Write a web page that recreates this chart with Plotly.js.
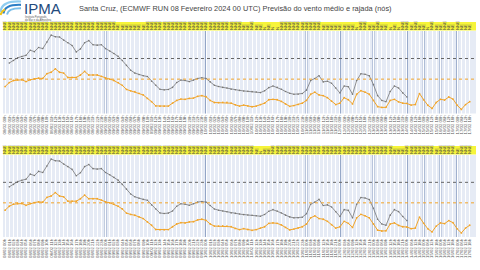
<!DOCTYPE html>
<html><head><meta charset="utf-8">
<script src="https://cdn.plot.ly/plotly-3.0.1.min.js"></script>
<style>html,body{margin:0;padding:0;background:#fff}#c{width:480px;height:270px}</style>
</head><body><div id="c"></div>
<script>
// Forecast steps (hours after 08 Feb 2024 00 UTC)
const steps = [0,1,2,3,4,5,6,7,8,9,10,11,12,13,14,15,16,17,18,19,20,21,22,23,24,
25,26,27,28,29,30,31,32,33,34,35,36,37,38,39,40,41,42,43,44,45,46,47,48,
49,50,51,52,53,54,55,56,57,58,59,60,61,62,63,64,65,66,67,68,69,70,71,72,
75,78,81,84,87,90,93,96,99,102,105,108,111,114,117,120,123,126,129,132,135,138,141,144,
150,156,162,168,174,180,186,192,198,204,210,216,222,228,234,240];
// Mean wind (knots)
const meanWind = [19.6,22.5,24,24.5,24.5,23.2,24.5,25.2,25.7,25.5,
29,30,32.5,30,29.4,26.2,26.2,26.2,28,30.6,
28,28,28,27,25.7,25,24,22.5,20.5,17.5,
16.5,15.9,14.7,13.5,11,8.6,5.5,5.3,5.3,5.4,
7.5,9.5,10.5,10.3,11,11.2,12.5,13,12.2,9.5,
8,7.9,8.1,8,7.5,6.3,5.4,6.1,5.5,4.9,
5.4,6.5,7.5,10,10.3,10,8.8,7,5.2,5.8,
6.6,7.5,9.5,14,15.5,13.5,13,11.5,9,6.5,
7.5,11.5,10,7,14,16.6,15.5,14,9.5,5,
4.4,4.5,9.5,10.3,8.5,7.5,7.3,6.1,6.5,14.5,
10,6,3.7,8,10.3,9.8,12,10.5,6,3,
6.5,8.6];
// Gust (knots)
const gust = [null,36.7,38.5,40.5,41.5,42.3,46,45,48,47.2,
52,57,55.8,55.6,53.4,51.5,49.5,44.8,47,51.5,
53,50,49.7,50,47.2,45.5,43.6,41.6,38.5,35,
31.5,29.4,28.3,27.5,26.9,23.5,20.5,17.6,17.2,17.5,
19,22.5,24.3,24,23.2,24.3,25.5,26,25.5,23,
20.5,19.6,19,18.5,17.6,17.3,16.8,16.4,16.1,15.9,
15.6,15.2,16.5,18.8,20,19,17.6,16,14.7,14,
14,14.5,17,24,25.5,27.5,23,23.5,22,18.5,
15,20,19.5,14,24,28.9,28.5,27.4,21,13,
9.5,8.6,16,20,18.6,15,12,null,null,null,
null,null,null,null,null,null,null,null,null,null,
null,null];
// Wind direction labels (top band of each panel)
const dirTop = ("NNE NNE NNE NNE NNE NNE NNE NNE NNE NNE " +
"NNE NNE NNE NNE NNE NNE NNE NNE NNE NNE " +
"NNE NNE NNE NNE NNE NNE NNE NE NE NE " +
"NE NE NE NE NNE NNE NNE NNE NNE NNE " +
"NNE NNE NNE NNE NNE NNE NNE NNE NNE NNE " +
"NNE NNE NNE NNE NNE NNE NNE NE NE NNE " +
"NE NE N NE N N NNE NNE NNE NNE " +
"NNE NNE NNE NNE NNE NNE NE NE NE NE " +
"NE NE NE NE N NNE NNE NE NE NNE " +
"NE NE N NE N NNE NNE NE NNE NE " +
"NE N NNE NE NE NNE NE NE NNE NE " +
"NE NE").split(" ");
const dirBot = ("NNE NNE NNE NNE NNE NNE NNE NNE NNE NNE " +
"NNE NNE NNE NNE NNE NNE NNE NNE NNE NNE " +
"NNE NNE NNE NNE NNE NNE NNE NNE NNE NNE " +
"NNE NNE NNE NNE NNE NNE NNE NNE NNE NNE " +
"NNE NNE NNE NNE NNE NNE NNE NNE NNE NNE " +
"NNE NNE NNE NNE NNE NNE NNE NNE NNE NNE " +
"NE N NE NE NNE NNE NNE NNE NNE NNE " +
"NNE NNE NNE NNE NNE NNE NNE NNE NNE NNE " +
"NNE NNE NNE NNE NNE NNE NNE NNE NNE NNE " +
"NNE NNE NNE NE NE NE NNE NNE NNE NNE " +
"NNE NNE NNE NE NNE NNE NNE NNE NE NNE " +
"NNE NNE").split(" ");
const thresholdMean = 25;
const thresholdGust = 40;
const titleText = "Santa Cruz, (ECMWF RUN 08 Fevereiro 2024 00 UTC) Previsão do vento médio e rajada (nós)";

const base = Date.UTC(2024,1,8,0);
const pad = n => String(n).padStart(2,'0');
const labels = steps.map(s => { const d = new Date(base + s*3600e3);
  return pad(d.getUTCDate()) + "/" + pad(d.getUTCMonth()+1) + " " + pad(d.getUTCHours()) + "h"; });
const dayStarts = labels.filter((l,i) => steps[i] > 0 && steps[i] < 240 && steps[i] % 24 === 0);

const W = 480, H = 270;
const px = x => x / W, py = y => 1 - y / H;
const xd = [px(3), px(476)];
const panels = [
  {xa:'x', xb:'x2', ya:'y', top:31, bot:113.5, dirs:dirTop},
  {xa:'x3', xb:'x4', ya:'y2', top:155, bot:237, dirs:dirBot}
];
const ORANGE = '#f2a52a', GRAY = '#777777';
const traces = [], shapes = [], layout = {
  width: W, height: H, margin:{l:0,r:0,t:0,b:0}, showlegend:false,
  paper_bgcolor:'#ffffff', plot_bgcolor:'#e6ebf5',
  font:{family:'Liberation Sans, Arial, sans-serif', color:'#444'},
  annotations: []
};
panels.forEach((p, k) => {
  const xn = p.xa === 'x' ? 'xaxis' : 'xaxis' + p.xa.slice(1);
  const xbn = 'xaxis' + p.xb.slice(1);
  const yn = p.ya === 'y' ? 'yaxis' : 'yaxis' + p.ya.slice(1);
  traces.push({x:labels, y:meanWind, xaxis:p.xa, yaxis:p.ya, type:'scatter', mode:'lines+markers',
    line:{color:ORANGE, width:1}, marker:{color:ORANGE, size:1.8}, hoverinfo:'skip'});
  traces.push({x:labels, y:gust, xaxis:p.xa, yaxis:p.ya, type:'scatter', mode:'lines+markers',
    line:{color:GRAY, width:0.8}, marker:{color:GRAY, size:1.6}, connectgaps:false, hoverinfo:'skip'});
  traces.push({x:labels, y:meanWind, xaxis:p.xb, yaxis:p.ya, type:'scatter', mode:'markers',
    marker:{opacity:0, size:1}, hoverinfo:'skip'});
  layout[xn] = {domain:xd, anchor:p.ya, type:'category', range:[-0.5, labels.length-0.5],
    tickmode:'array', tickvals:labels, ticktext:labels, tickangle:-90,
    tickfont:{size:4.3, color:'#555'}, ticks:'', showgrid:true, gridcolor:'#ffffff', gridwidth:1,
    zeroline:false, showline:false, fixedrange:true};
  layout[xbn] = {overlaying:p.xa, side:'top', anchor:p.ya, type:'category', range:[-0.5, labels.length-0.5],
    tickmode:'array', tickvals:labels, ticktext:p.dirs, tickangle:-90,
    tickfont:{size:4.3, color:'#444'}, ticks:'', showgrid:false, zeroline:false, showline:false, fixedrange:true};
  layout[yn] = {domain:[py(p.bot), py(p.top)], anchor:p.xa, range:[0,60], showticklabels:false,
    showgrid:false, zeroline:false, showline:false, fixedrange:true};
  // yellow direction band
  shapes.push({type:'rect', xref:'paper', yref:'paper', x0:xd[0], x1:xd[1], y0:py(p.top-0.5), y1:py(p.top-9),
    fillcolor:'#f6f43a', line:{width:0}, layer:'below'});
  // day boundaries
  dayStarts.forEach(d => shapes.push({type:'line', xref:p.xa, yref:p.ya + ' domain', x0:d, x1:d, y0:0, y1:1,
    line:{color:'#93a5c6', width:2}, layer:'below'}));
  // thresholds
  shapes.push({type:'line', xref:'paper', yref:p.ya, x0:xd[0], x1:xd[1], y0:thresholdGust, y1:thresholdGust,
    line:{color:'#666666', width:1, dash:'dot'}});
  shapes.push({type:'line', xref:'paper', yref:p.ya, x0:xd[0], x1:xd[1], y0:thresholdMean, y1:thresholdMean,
    line:{color:ORANGE, width:1, dash:'dot'}});
});
// logo arcs
const arc = (x0,y0,cx,cy,x1,y1,col,w) => shapes.push({type:'path', xref:'paper', yref:'paper',
  path:`M ${px(x0)} ${py(y0)} Q ${px(cx)} ${py(cy)} ${px(x1)} ${py(y1)}`, line:{color:col, width:w}});
arc(0.5,12,1.5,0.5,21,1.5,'#8fcdf0',2.2);
arc(3.5,13.5,4.5,4.2,21,4.8,'#2c7fc6',2.2);
arc(7,14.5,8,8,21,8.2,'#7cc0ea',2);
arc(0.5,15,1.5,11,5,9.5,'#f0c419',2);
layout.shapes = shapes;
layout.annotations.push(
  {text:'IPMA', xref:'paper', yref:'paper', x:px(22), y:py(8.5), xanchor:'left', yanchor:'middle', showarrow:false,
   font:{size:15, color:'#234a7d', family:'Liberation Sans, Arial, sans-serif'}},
  {text:'Instituto Português<br>do Mar e da Atmosfera', xref:'paper', yref:'paper', x:px(23), y:py(18.5), xanchor:'left', yanchor:'middle',
   align:'left', showarrow:false, font:{size:2.6, color:'#555'}},
  {text:titleText, xref:'paper', yref:'paper', x:px(77), y:py(9), xanchor:'left', yanchor:'middle', showarrow:false,
   font:{size:7.4, color:'#444'}}
);
Plotly.newPlot('c', traces, layout, {displayModeBar:false, staticPlot:true});
</script></body></html>
